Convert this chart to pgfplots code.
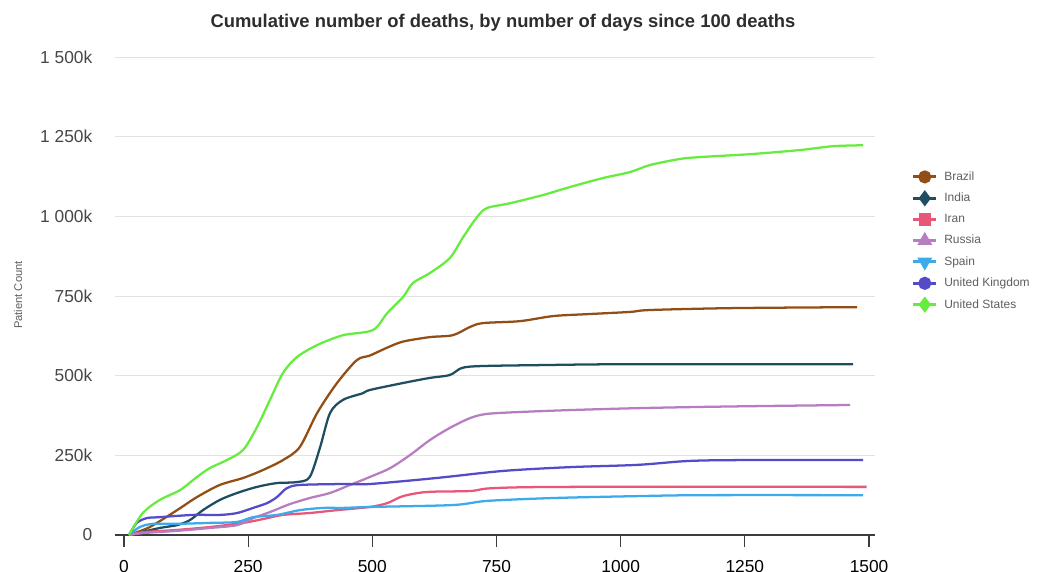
\documentclass[border=0pt]{standalone}
\usepackage{fontspec}
\setmainfont{Liberation Sans}
\usepackage{pgfplots}
\pgfplotsset{compat=1.18}

\definecolor{brazil}{RGB}{145,78,22}
\definecolor{india}{RGB}{30,78,95}
\definecolor{iran}{RGB}{232,86,120}
\definecolor{russia}{RGB}{182,126,192}
\definecolor{spain}{RGB}{60,170,235}
\definecolor{uk}{RGB}{85,75,200}
\definecolor{usa}{RGB}{102,236,62}
\definecolor{gridgray}{RGB}{226,226,226}
\definecolor{axisgray}{RGB}{60,60,60}
\definecolor{labelgray}{RGB}{70,70,70}
\definecolor{titlegray}{RGB}{45,45,45}
\definecolor{legendgray}{RGB}{95,95,95}

\begin{document}
\begin{tikzpicture}
\begin{axis}[
name=ax,
scale only axis,
width=570pt, height=358.5pt,
xmin=-18, xmax=1512, ymin=0, ymax=1500,
axis x line*=bottom, axis y line*=left,
y axis line style={draw=none},
x axis line style={draw=axisgray, line width=0.9pt},
tick align=outside,
major tick length=9pt,
xtick={0,250,500,750,1000,1250,1500},
xticklabels={0,250,500,750,1000,1250,1500},
ytick={0,250,500,750,1000,1250,1500},
yticklabels={0,250k,500k,750k,1\ 000k,1\ 250k,1\ 500k},
xtick style={draw=axisgray, line width=0.9pt},
ytick style={draw=none},
ymajorgrids,
grid style={gridgray, line width=0.6pt},
xticklabel style={font=\fontsize{13}{15}\selectfont, text=black, yshift=-6.5pt},
yticklabel style={font=\fontsize{13}{15}\selectfont, text=labelgray, xshift=-4.5pt},
ylabel={Patient Count},
ylabel style={at={(axis description cs:-0.1276,0.502)}, anchor=center, font=\fontsize{8.4}{10}\selectfont, text=legendgray},
title={Cumulative number of deaths, by number of days since 100 deaths},
title style={at={(axis description cs:0.5105,1.054)}, anchor=center, font=\bfseries\fontsize{13.8}{16}\selectfont, text=titlegray},
legend cell align=left,
legend style={at={(axis description cs:1.043,0.772)}, anchor=north west, draw=none, fill=none,
  font=\fontsize{9}{11}\selectfont, text=legendgray, row sep=4pt,
  /tikz/every odd column/.append style={column sep=3pt}},
]
\addlegendimage{brazil, line width=2.2pt, mark=*, mark size=3.8pt, mark options={solid}}
\addlegendentry{Brazil}
\addlegendimage{india, line width=2.2pt, mark=diamond*, mark size=4.3pt, mark options={solid}}
\addlegendentry{India}
\addlegendimage{iran, line width=2.2pt, mark=square*, mark size=3.5pt, mark options={solid}}
\addlegendentry{Iran}
\addlegendimage{russia, line width=2.2pt, mark=triangle*, mark size=4.3pt, mark options={solid}}
\addlegendentry{Russia}
\addlegendimage{spain, line width=2.2pt, mark=triangle*, mark size=4.3pt, mark options={solid, rotate=180}}
\addlegendentry{Spain}
\addlegendimage{uk, line width=2.2pt, mark=*, mark size=3.8pt, mark options={solid}}
\addlegendentry{United Kingdom}
\addlegendimage{usa, line width=2.2pt, mark=diamond*, mark size=4.3pt, mark options={solid}}
\addlegendentry{United States}

% Brazil
\addplot[brazil, line width=1.7pt, smooth, tension=0.5, forget plot] coordinates {
(10,0) (52,25) (107,78) (147,119) (193,157) (240,179) (280,204) (320,235) (354,276)
(389,383) (429,477) (469,549) (495,563) (530,588) (562,607) (616,621) (662,627)
(697,653) (723,665) (797,671) (864,687) (932,693) (1019,700) (1059,706) (1226,712) (1476,715)
};
% India
\addplot[india, line width=1.7pt, smooth, tension=0.5, forget plot] coordinates {
(10,0) (72,22) (107,31) (133,47) (159,78) (193,110) (228,132) (268,151) (308,163) (348,166)
(374,182) (395,276) (415,383) (441,424) (481,445) (495,455) (562,477) (616,493) (656,502)
(680,524) (717,530) (831,533) (1019,536) (1468,536)
};
% Iran
\addplot[iran, line width=1.7pt, smooth, tension=0.5, forget plot] coordinates {
(10,0) (38,9) (107,16) (173,25) (240,38) (280,50) (320,63) (374,69) (429,78) (495,88)
(530,100) (562,122) (610,135) (697,138) (743,147) (898,151) (1495,151)
};
% Russia
\addplot[russia, line width=1.7pt, smooth, tension=0.5, forget plot] coordinates {
(10,0) (38,6) (107,13) (173,22) (228,31) (260,53) (294,72) (334,97) (374,116) (415,132)
(455,157) (495,182) (536,210) (576,251) (616,298) (656,336) (697,367) (731,380) (797,386)
(898,392) (1033,398) (1166,402) (1301,405) (1462,408)
};
% Spain
\addplot[spain, line width=1.7pt, smooth, tension=0.5, forget plot] coordinates {
(10,0) (32,25) (58,35) (107,35) (173,38) (228,41) (260,56) (308,63) (354,78) (401,85)
(441,85) (495,88) (662,94) (731,107) (864,116) (1033,122) (1166,125) (1488,125)
};
% United Kingdom
\addplot[uk, line width=1.7pt, smooth, tension=0.5, forget plot] coordinates {
(10,0) (26,38) (46,53) (72,56) (139,63) (193,63) (228,69) (260,85) (288,100) (308,119)
(328,147) (354,157) (441,160) (495,160) (630,179) (763,201) (898,213) (1033,220)
(1133,232) (1234,235) (1488,235)
};
% United States
\addplot[usa, line width=1.7pt, smooth, tension=0.5, forget plot] coordinates {
(10,0) (38,69) (72,110) (113,141) (147,182) (173,210) (207,235) (240,267) (268,339)
(294,424) (320,508) (348,558) (389,596) (441,627) (501,643) (530,696) (562,747)
(582,791) (616,822) (656,869) (683,935) (711,998) (731,1026) (777,1041) (844,1067)
(898,1092) (964,1120) (1019,1139) (1059,1161) (1119,1180) (1160,1186) (1260,1195)
(1361,1208) (1427,1220) (1488,1223)
};
\end{axis}
\pgfresetboundingbox
\path[use as bounding box] (ax.south west) ++(-86.25pt,-27pt) rectangle ++(778.5pt,428.25pt);
\end{tikzpicture}
\end{document}
